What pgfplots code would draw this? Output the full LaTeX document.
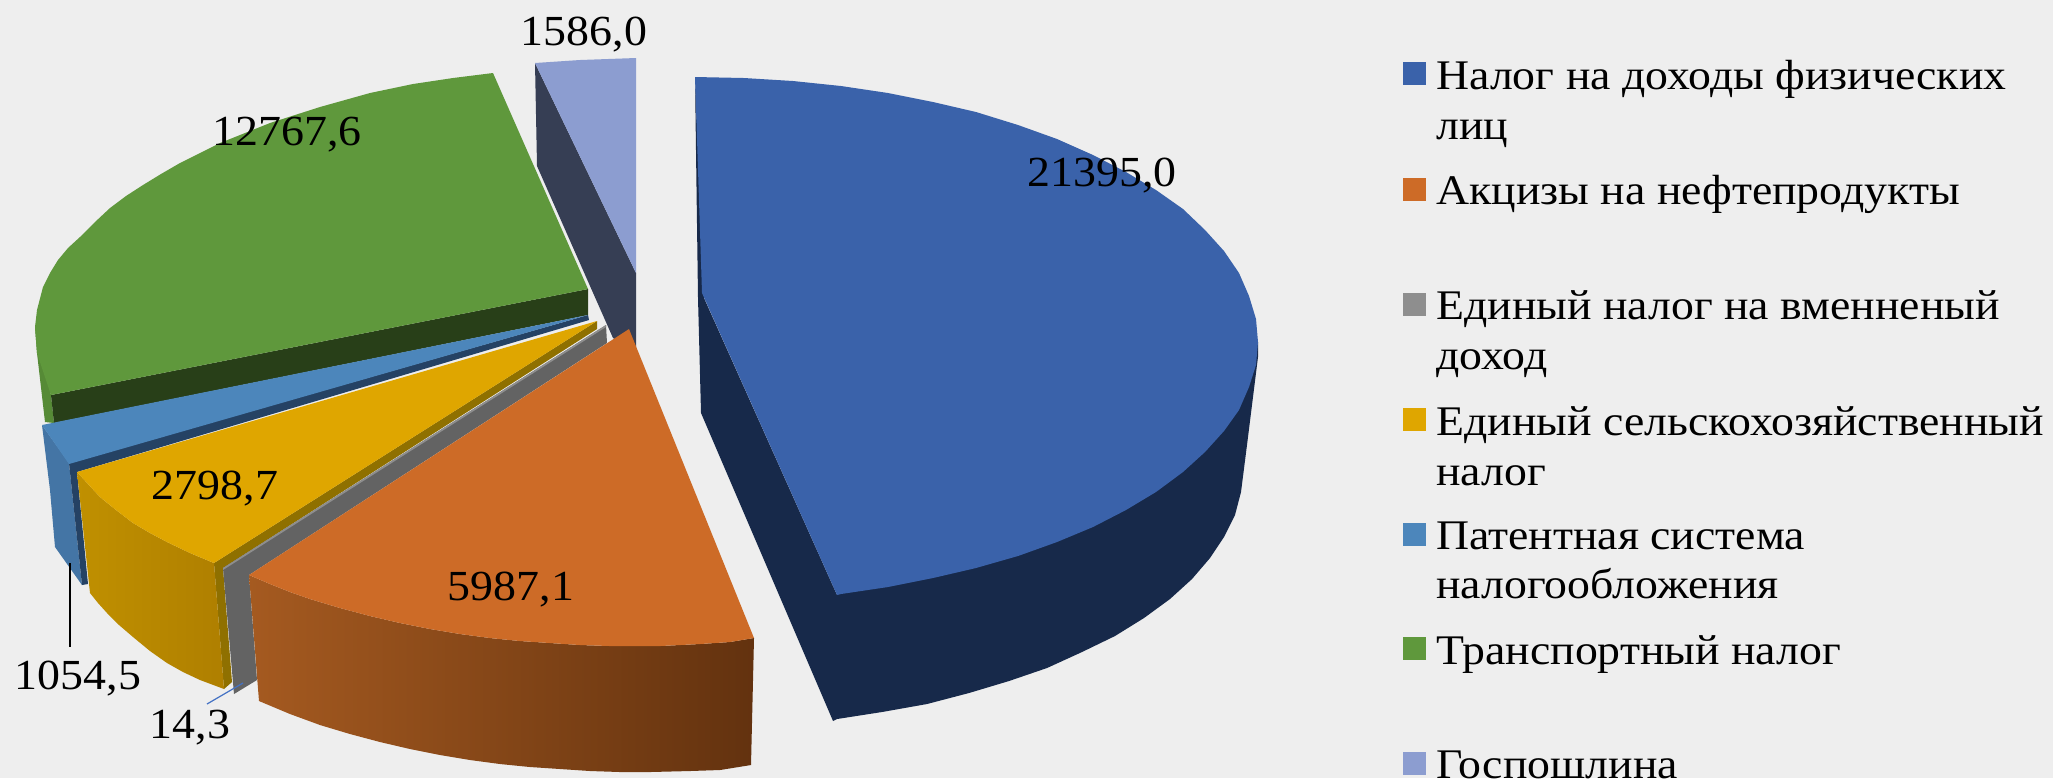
\documentclass[border=0pt]{standalone}
\usepackage{fontspec}
\setmainfont[FakeStretch=1.07]{Liberation Serif}
\newfontfamily\legfont[FakeStretch=1.085]{Liberation Serif}
\usepackage{pgfplots}
\pgfplotsset{compat=1.18}
\definecolor{bgc}{HTML}{EEEEEE}
\definecolor{cblue}{HTML}{3A62AA}
\definecolor{corange}{HTML}{CD6B27}
\definecolor{cgray}{HTML}{8E8E8E}
\definecolor{cyellow}{HTML}{DFA600}
\definecolor{cpat}{HTML}{4C86BB}
\definecolor{cgreen}{HTML}{5F983C}
\definecolor{cgov}{HTML}{8C9DD0}
\definecolor{sgov}{HTML}{363E54}
\definecolor{sgreena}{HTML}{568A36}
\definecolor{sgreenb}{HTML}{283F18}
\definecolor{spata}{HTML}{4475A5}
\definecolor{spatb}{HTML}{254264}
\definecolor{syela}{HTML}{8F7000}
\definecolor{syelb}{HTML}{C09000}
\definecolor{syelc}{HTML}{AF7F00}
\definecolor{sgray}{HTML}{636363}
\definecolor{sorga}{HTML}{A55A20}
\definecolor{sorgb}{HTML}{63320F}
\definecolor{sblue}{HTML}{17294A}
\definecolor{leader}{HTML}{4472C4}
\tikzset{lbl/.style={font=\fontsize{12.2}{14}\selectfont, anchor=base, inner sep=0pt}}
\begin{document}
\begin{tikzpicture}
\path[use as bounding box] (0,0) rectangle (20.53cm,7.78cm);
\begin{axis}[
  at={(0,0)}, anchor=south west,
  scale only axis, width=20.53cm, height=7.78cm,
  xmin=0, xmax=2053, ymin=0, ymax=778, y dir=reverse,
  hide axis, clip=true,
  legend image code/.code={\path[#1,draw=none] (0pt,4.85pt) rectangle (6.5pt,11.35pt);},
  legend style={at={(axis cs:1403,60)}, anchor=north west, draw=none, fill=none,
    inner sep=0pt, outer sep=0pt, row sep=8.85pt, column sep=3pt,
    nodes={align=left, inner sep=0pt, font=\legfont\fontsize{12}{14.2}\selectfont}},
  legend cell align=left,
]
% background
\addplot[forget plot, fill=bgc, draw=none] coordinates {(0,0)(2053,0)(2053,778)(0,778)} --cycle;
% government fee side
\addplot[forget plot, fill=sgov, draw=none] coordinates {(535,63)(636,273)(636,350)(613,338)(537,166)} --cycle;
% transport tax sides
\addplot[forget plot, fill=sgreena, draw=none] coordinates {(35,327)(37,353)(45,422)(54,423)(51,395)} --cycle;
\addplot[forget plot, fill=sgreenb, draw=none] coordinates {(51,395)(588,289)(588,315)(54,423)} --cycle;
% patent sides
\addplot[forget plot, fill=spata, draw=none] coordinates {(42,425)(69,463)(82,585)(55,547)(50,490)} --cycle;
\addplot[forget plot, fill=spatb, draw=none] coordinates {(69,463)(588,315)(589,320)(77,472)(88,584)(82,585)} --cycle;
% agricultural tax sides
\addplot[forget plot, fill=syela, draw=none] coordinates {(214,563)(597,321)(597,329)(223,568)(232,682)(224,689)} --cycle;
\addplot[forget plot, draw=none, left color=syelb, right color=syelc] coordinates {(77,472)(88,484)(100,497)(116,510)(133,523)(150,533)(167,542)(190,553)(214,563)(224,689)(200,680)(183,672)(167,663)(150,651)(133,637)(119,625)(107,613)(98,603)(90,593)} --cycle;
% single tax side
\addplot[forget plot, fill=sgray, draw=none] coordinates {(223,568)(606,325)(607,343)(249,575)(257,680)(234,694)} --cycle;
% excise side
\addplot[forget plot, draw=none, left color=sorga, right color=sorgb] coordinates {(249,575)(270,584)(290,592)(310,599)(340,608)(370,616)(400,623)(430,629)(460,634)(490,638)(520,641)(550,643)(580,645)(610,646)(630,646)(660,646)(700,644)(730,642)(754,638)(751,765)(720,770)(690,771)(650,772)(620,772)(590,771)(560,769)(530,767)(500,764)(470,760)(440,755)(410,749)(380,742)(350,734)(320,725)(290,714)(259,701)} --cycle;
% income tax side
\addplot[forget plot, fill=sblue, draw=none] coordinates {(695,77)(698,298)(701,413)(833,721)(837,719)(882,712)(927,704)(969,693)(1009,681)(1047,668)(1082,652)(1115,636)(1144,618)(1170,599)(1192,579)(1210,558)(1224,537)(1235,515)(1241,492)(1248,437)(1258,357)(1258,342)(837,595)(704,298)} --cycle;
% tops
\addplot[fill=cblue, draw=none] coordinates {(695,77)(702,293)(837,595)(841,594)(888,587)(933,578)(976,568)(1018,556)(1057,542)(1093,527)(1126,510)(1156,492)(1183,472)(1205,452)(1224,431)(1239,410)(1249,387)(1256,365)(1258,342)(1256,319)(1249,296)(1239,273)(1224,251)(1205,230)(1183,209)(1156,190)(1126,172)(1093,155)(1057,139)(1018,125)(976,112)(933,102)(888,93)(841,86)(793,81)(744,78)} --cycle;
\addplot[fill=corange, draw=none] coordinates {(629,329)(754,638)(730,642)(700,644)(660,646)(630,646)(610,646)(580,645)(550,643)(520,641)(490,638)(460,634)(430,629)(400,623)(370,616)(340,608)(310,599)(290,592)(270,584)(249,575)} --cycle;
\addplot[fill=cgray, draw=none] coordinates {(223,568)(606,325)(606,327)(223,570)} --cycle;
\addplot[fill=cyellow, draw=none] coordinates {(77,472)(597,321)(214,563)(190,553)(167,542)(150,533)(133,523)(116,510)(100,497)(88,484)} --cycle;
\addplot[fill=cpat, draw=none] coordinates {(42,425)(588,315)(69,464)} --cycle;
\addplot[fill=cgreen, draw=none] coordinates {(588,289)(493,73)(453,78)(413,84)(370,93)(320,107)(270,123)(245,133)(220,143)(200,153)(180,163)(161,174)(143,185)(126,196)(110,208)(95,222)(80,237)(68,248)(58,260)(50,273)(43,287)(37,310)(35,327)(37,353)(51,395)} --cycle;
\addplot[fill=cgov, draw=none] coordinates {(535,63)(580,60)(636,58)(636,273)} --cycle;
% leader lines
\addplot[forget plot, black, line width=0.35pt] coordinates {(70,563)(70,647)};
\addplot[forget plot, leader, line width=0.35pt] coordinates {(207,704)(243,683)};
% data labels
\node[lbl] at (axis cs:584,45) {1586,0};
\node[lbl] at (axis cs:287,145) {12767,6};
\node[lbl] at (axis cs:1102,186) {21395,0};
\node[lbl] at (axis cs:215,499) {2798,7};
\node[lbl] at (axis cs:511,600) {5987,1};
\node[lbl] at (axis cs:78,689) {1054,5};
\node[lbl] at (axis cs:190,738) {14,3};
\legend{{Налог на доходы физических\\лиц},
        {Акцизы на нефтепродукты\\\strut},
        {Единый налог на вменненый\\доход},
        {Единый сельскохозяйственный\\налог},
        {Патентная система\\налогообложения},
        {Транспортный налог\\\strut},
        {Госпошлина\\\strut}}
\end{axis}
\end{tikzpicture}
\end{document}
